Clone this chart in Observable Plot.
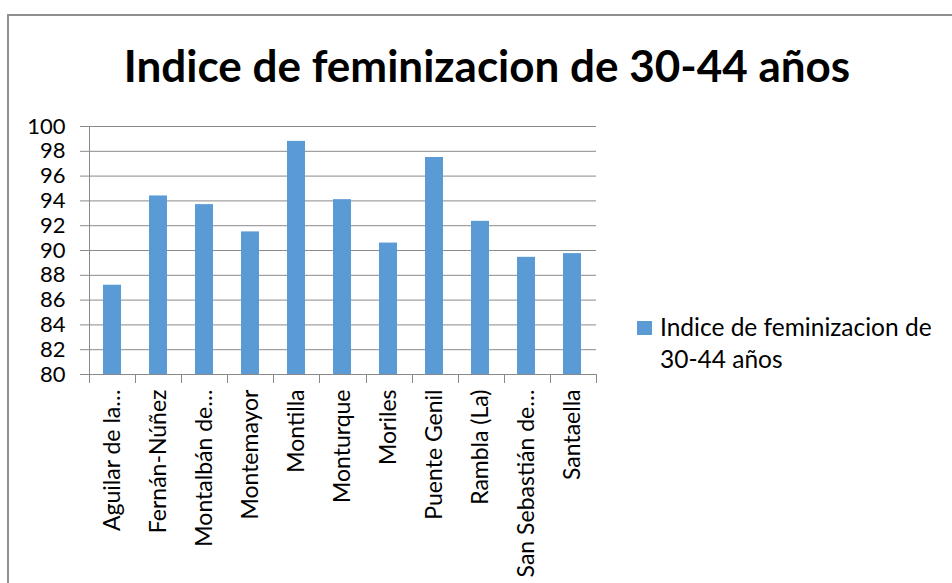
<!DOCTYPE html>
<html>
<head>
<meta charset="utf-8">
<script src="https://cdn.jsdelivr.net/npm/d3@7"></script>
<script src="https://cdn.jsdelivr.net/npm/@observablehq/plot@0.6"></script>
<style>
  html, body { margin: 0; padding: 0; background: #fff; }
  #chart { position: relative; width: 952px; height: 583px; overflow: hidden; background: #fff; font-family: Lato, "Open Sans", sans-serif; }
  #border { position: absolute; left: 7px; top: 14px; width: 960px; height: 600px; border-left: 2px solid #8f8f8f; border-top: 2px solid #8f8f8f; box-sizing: border-box; }
  #title { position: absolute; left: 0; width: 974px; top: 35px; text-align: center; font-weight: 700; font-size: 44px; line-height: 60px; color: #000; white-space: nowrap; }
  #plot { position: absolute; left: 0; top: 100px; }
  #legend { position: absolute; left: 637px; top: 311px; color: #000; font-size: 24.5px; line-height: 32px; }
  #legend .sw { position: absolute; left: 0; top: 10px; width: 15px; height: 14px; background: #5B9BD5; }
  #legend .tx { position: absolute; left: 23px; top: 0; white-space: nowrap; }
</style>
</head>
<body>
<div id="chart">
  <div id="border"></div>
  <div id="title"></div>
  <div id="plot"></div>
  <div id="legend"><div class="sw"></div><div class="tx"></div></div>
</div>
<script>
// ---- data ----
const titleText = "Indice de feminizacion de 30-44 años";
const seriesName = ["Indice de feminizacion de", "30-44 años"];
const municipios = [
  "Aguilar de la…",
  "Fernán-Núñez",
  "Montalbán de…",
  "Montemayor",
  "Montilla",
  "Monturque",
  "Moriles",
  "Puente Genil",
  "Rambla (La)",
  "San Sebastián de…",
  "Santaella"
];
const indice = [87.2, 94.4, 93.7, 91.5, 98.8, 94.1, 90.6, 97.5, 92.35, 89.45, 89.75];
const yTicks = [80, 82, 84, 86, 88, 90, 92, 94, 96, 98, 100];
const yMin = 80, yMax = 100;

const rows = municipios.map((m, i) => ({municipio: m, valor: indice[i]}));

document.getElementById("title").textContent = titleText;
document.querySelector("#legend .tx").innerHTML = seriesName.join("<br>");

const barColor = "#5B9BD5";
const lineColor = "#8a8a8a";

// boundary ticks + left/bottom axis lines, drawn from the scales/dimensions
function categoryFrame(index, scales, values, dims) {
  const g = d3.create("svg:g");
  const x0 = dims.marginLeft, x1 = dims.width - dims.marginRight;
  const yb = scales.y(yMin), yt = scales.y(yMax);
  const n = municipios.length;
  const step = (x1 - x0) / n;
  g.append("line").attr("x1", x0 + 0.5).attr("x2", x0 + 0.5).attr("y1", yt).attr("y2", yb + 9)
    .attr("stroke", lineColor);
  for (let i = 1; i <= n; i++) {
    const xp = Math.round(x0 + i * step) + 0.5;
    g.append("line").attr("x1", xp).attr("x2", xp).attr("y1", yb).attr("y2", yb + 9)
      .attr("stroke", lineColor);
  }
  g.append("line").attr("x1", x0).attr("x2", x1 + 0.5).attr("y1", Math.round(yb) + 0.5).attr("y2", Math.round(yb) + 0.5)
    .attr("stroke", lineColor);
  return g.node();
}

const chart = Plot.plot({
  width: 952,
  height: 483,
  marginTop: 26,
  marginBottom: 209,
  marginLeft: 89,
  marginRight: 356,
  style: {fontFamily: "Lato, 'Open Sans', sans-serif", color: "#000", background: "transparent"},
  x: {domain: municipios, paddingInner: 0.6, paddingOuter: 0.3},
  y: {domain: [yMin, yMax]},
  marks: [
    Plot.gridY(yTicks, {stroke: lineColor, strokeOpacity: 1}),
    Plot.barY(rows, {x: "municipio", y1: yMin, y2: "valor", fill: barColor}),
    Plot.axisY({ticks: yTicks, tickSize: 9, tickPadding: 15, fontSize: 22, stroke: lineColor, label: null}),
    Plot.axisX({tickSize: 0, tickPadding: 15, tickRotate: -90, fontSize: 23, label: null}),
    categoryFrame
  ]
});
document.getElementById("plot").appendChild(chart);
</script>
</body>
</html>
